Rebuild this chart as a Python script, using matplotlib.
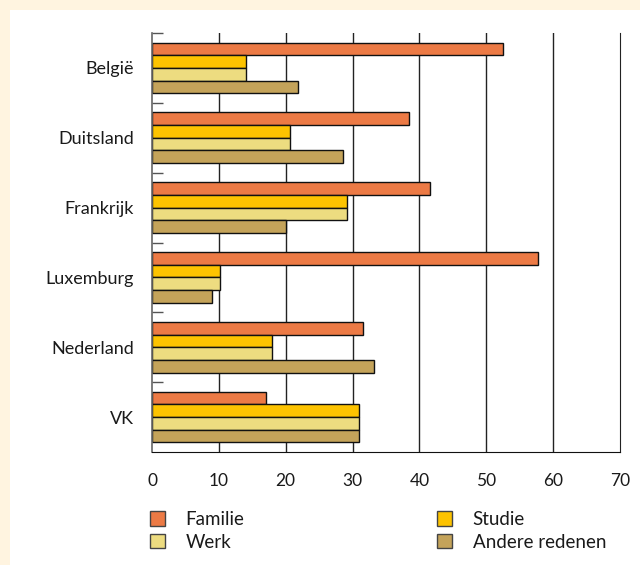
import numpy as np
import matplotlib
matplotlib.use("Agg")
import matplotlib.pyplot as plt
from matplotlib.patches import Patch

plt.rcParams['font.family'] = ['Lato', 'DejaVu Sans']

landen = ["België", "Duitsland", "Frankrijk", "Luxemburg", "Nederland", "VK"]
familie = [52.5, 38.5, 41.6, 57.8, 31.5, 17.0]
studie = [14.1, 20.6, 29.1, 10.2, 18.0, 30.9]
werk = [14.1, 20.6, 29.1, 10.2, 18.0, 30.9]
andere = [21.9, 28.5, 20.0, 9.0, 33.2, 30.9]

reeksen = ["Familie", "Studie", "Werk", "Andere redenen"]
kleuren = ["#EC7A45", "#FDC300", "#EDDC80", "#C4A35A"]

W, H = 640, 565
fig = plt.figure(figsize=(W / 100, H / 100), dpi=100)
fig.patch.set_facecolor("#FFF4E0")
# white panel
fig.add_artist(plt.Rectangle((10 / W, 0), 1, 1 - 10 / H, transform=fig.transFigure,
                             facecolor="white", edgecolor="none", zorder=0))

ax = fig.add_axes([152 / W, 113 / H, 468 / W, 419 / H])
ax.set_facecolor("white")

y = np.arange(len(landen)) + 0.5
h = 0.181
for k, (vals, naam) in enumerate(zip([familie, studie, werk, andere], reeksen)):
    ax.barh(y + (k - 1.5) * h, vals, height=h, color=kleuren[k],
            edgecolor="#111111", linewidth=1, label=naam, zorder=3)

ax.set_xlim(0, 70)
ax.set_ylim(len(landen), 0)
ax.set_xticks(range(0, 71, 10))
ax.tick_params(axis="x", length=0, pad=15, labelsize=12.5, colors="#1a1a1a")
for xv in range(10, 70, 10):
    ax.axvline(xv, color="#222222", lw=1, zorder=1)

ax.set_yticks(y)
ax.set_yticklabels(landen)
ax.tick_params(axis="y", which="major", length=0, pad=13, labelsize=13, colors="#1a1a1a")
ax.set_yticks(np.arange(len(landen)), minor=True)
ax.tick_params(axis="y", which="minor", direction="in", length=8, width=1, color="#555555")

ax.spines["top"].set_visible(False)
ax.spines["left"].set_color("#666666")
ax.spines["left"].set_linewidth(1.2)
ax.spines["right"].set_color("#222222")
ax.spines["bottom"].set_color("#111111")
for s in ["left", "right", "bottom"]:
    ax.spines[s].set_zorder(4)

def legenda(items, x, ytop):
    handles = [Patch(facecolor=kleuren[reeksen.index(n)], edgecolor="#444444", lw=1) for n in items]
    leg = fig.legend(handles, items, loc="upper left", bbox_to_anchor=(x / W, 1 - ytop / H),
                     frameon=False, fontsize=13.5, handlelength=0.8, handleheight=0.8,
                     handletextpad=1.1, labelspacing=0.3, borderpad=0, borderaxespad=0)
    for t in leg.get_texts():
        t.set_color("#1a1a1a")
    return leg

legenda(["Familie", "Werk"], 150, 511)
legenda(["Studie", "Andere redenen"], 437, 511)

fig.savefig("out.png", dpi=100)
